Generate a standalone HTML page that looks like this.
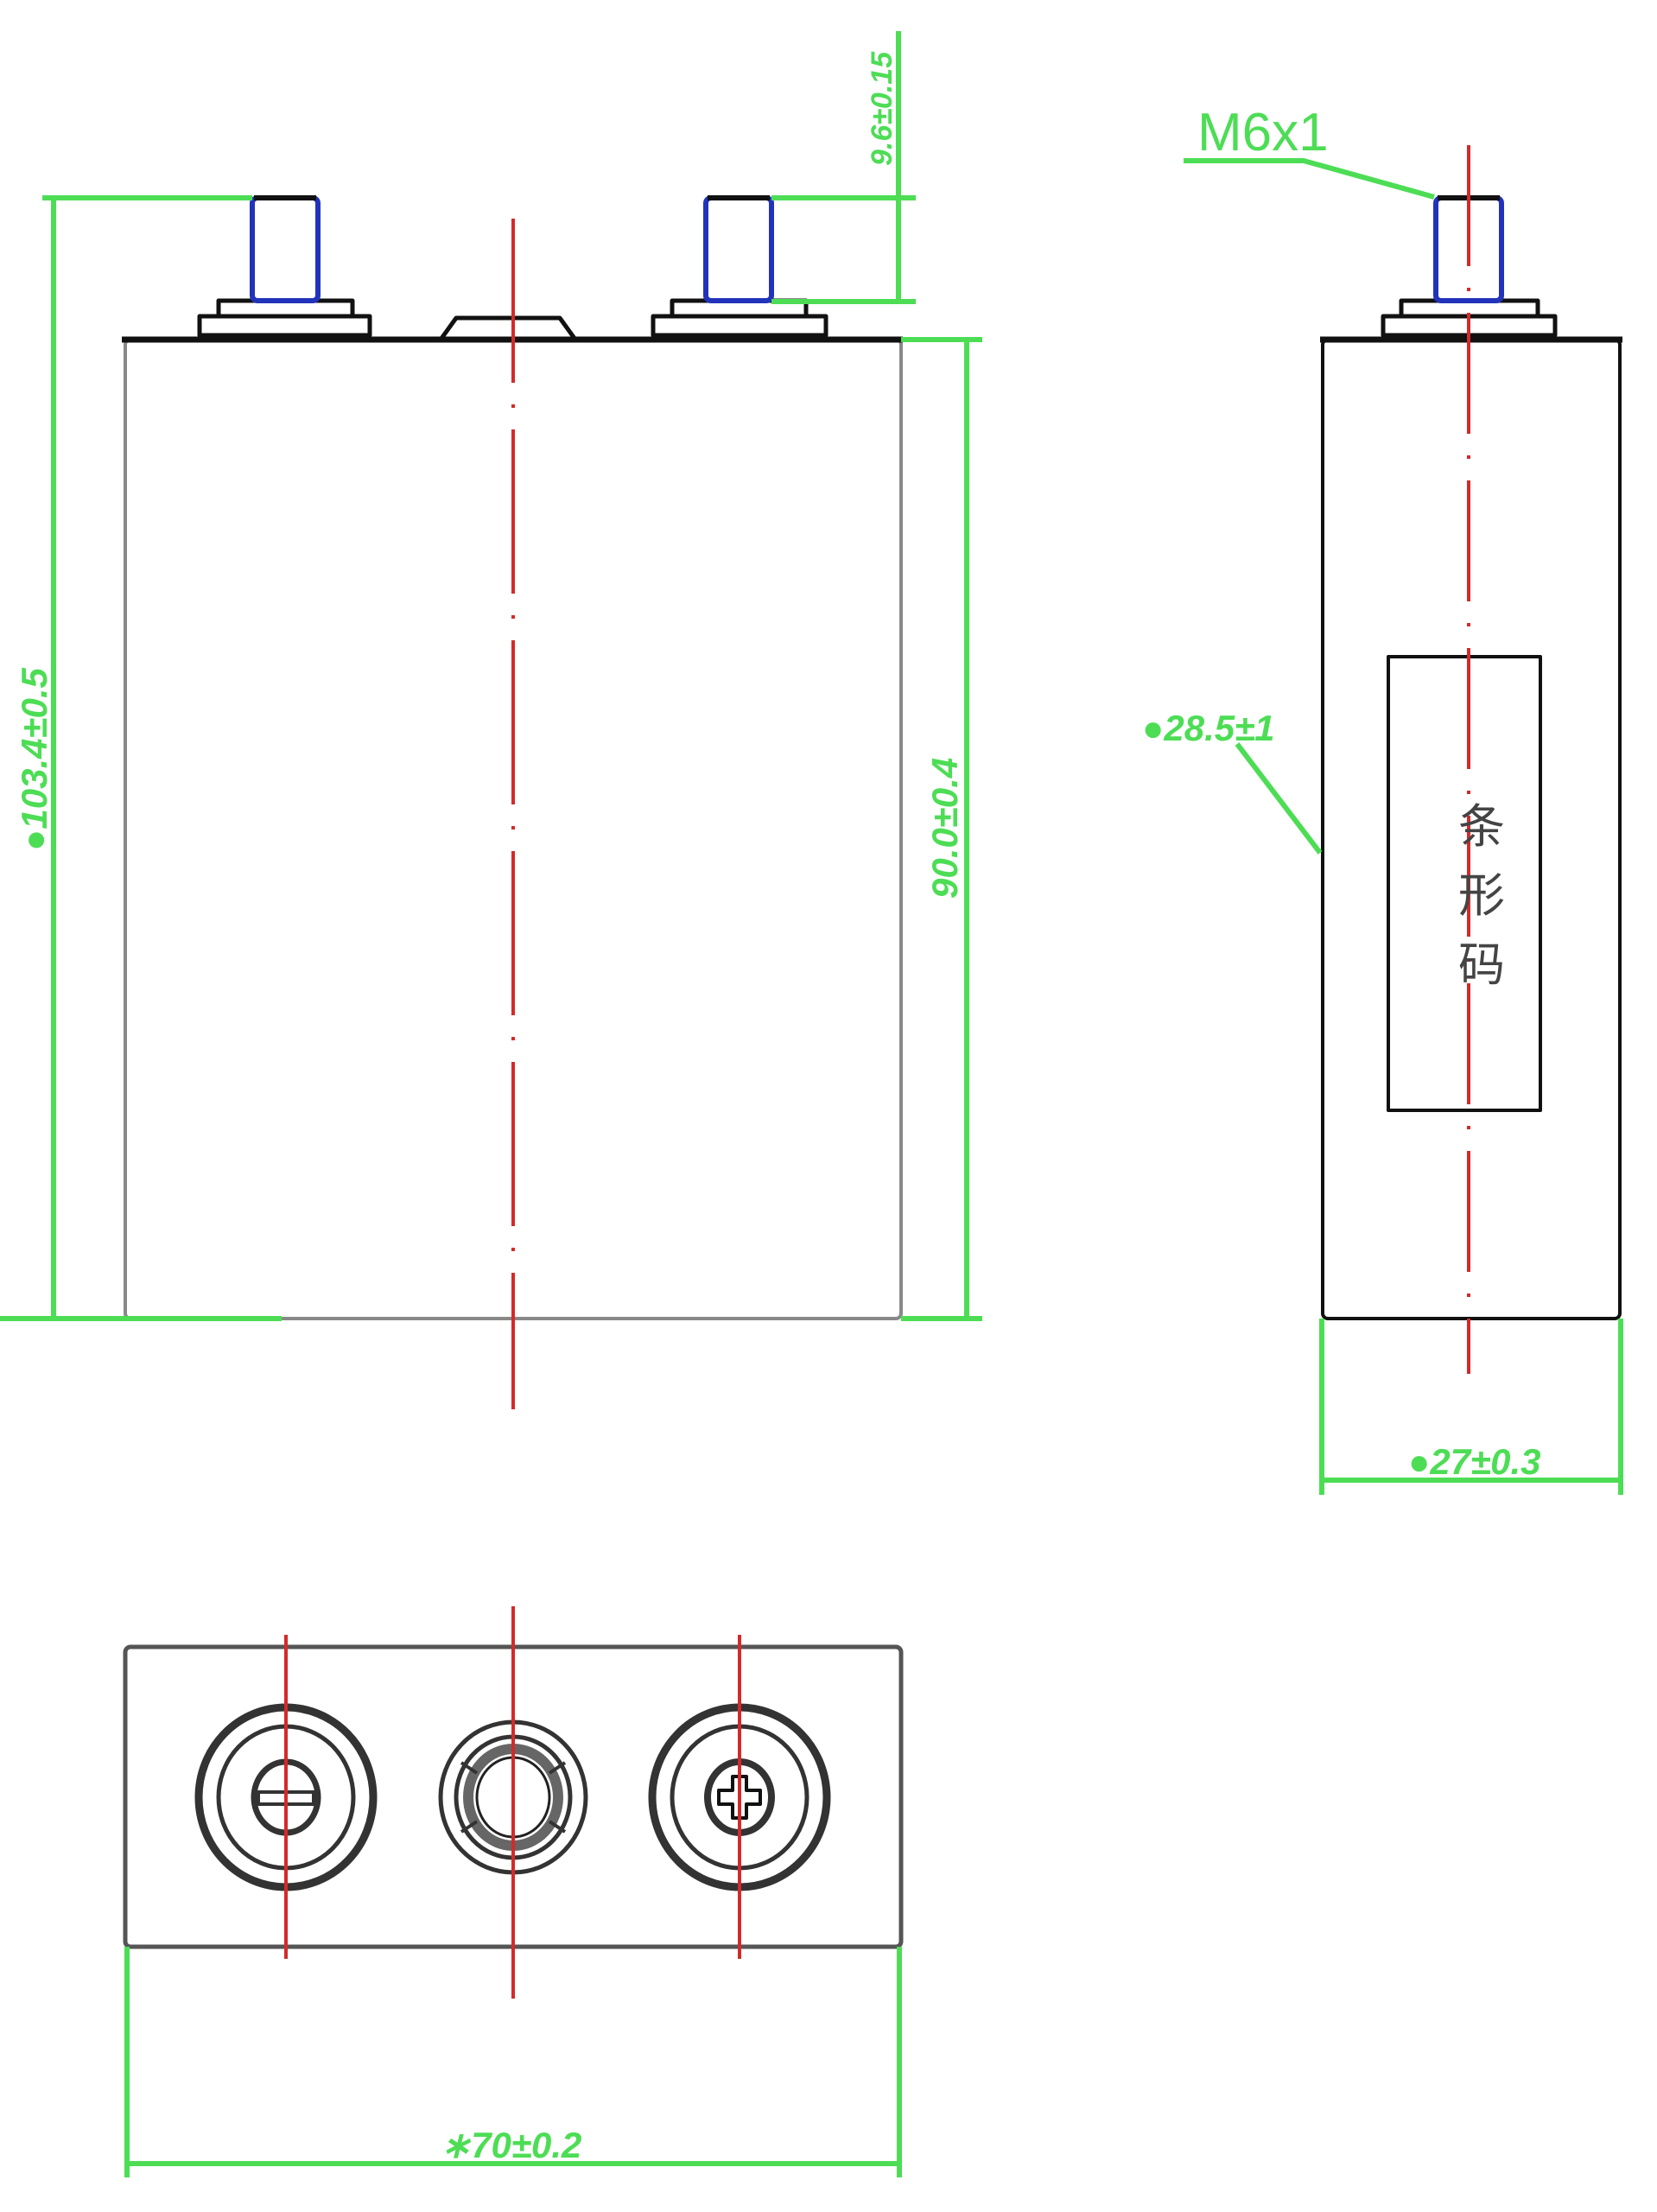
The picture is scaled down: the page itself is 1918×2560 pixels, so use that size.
<!DOCTYPE html>
<html><head><meta charset="utf-8"><style>html,body{margin:0;padding:0;background:#fff}svg{display:block}</style></head><body>
<svg width="1918" height="2560" viewBox="0 0 1918 2560" xmlns="http://www.w3.org/2000/svg">
<g fill="none" stroke-linejoin="round">
<rect x="145" y="393" width="898" height="1133" rx="6" stroke="#888" stroke-width="4"/>
<line x1="141" y1="393" x2="1045" y2="393" stroke="#111" stroke-width="7"/>
<rect x="231" y="366" width="197" height="22" stroke="#111" stroke-width="5"/>
<rect x="253" y="348" width="155" height="18" stroke="#111" stroke-width="5"/>
<rect x="292" y="229" width="76" height="119" rx="6" stroke="#2233bb" stroke-width="6"/>
<line x1="294" y1="229" x2="366" y2="229" stroke="#111" stroke-width="6"/>
<rect x="756" y="366" width="200" height="22" stroke="#111" stroke-width="5"/>
<rect x="778" y="348" width="155" height="18" stroke="#111" stroke-width="5"/>
<rect x="817" y="229" width="76" height="119" rx="6" stroke="#2233bb" stroke-width="6"/>
<line x1="819" y1="229" x2="891" y2="229" stroke="#111" stroke-width="6"/>
<path d="M510 393 L528 368 L648 368 L666 393" stroke="#111" stroke-width="5"/>
<line x1="594" y1="253" x2="594" y2="1631" stroke="#d42a2a" stroke-width="4" stroke-dasharray="190 25 4 25"/>
<g stroke="#4ddd55" stroke-width="6">
<line x1="49" y1="229" x2="292" y2="229"/>
<line x1="0" y1="1526" x2="326" y2="1526"/>
<line x1="62" y1="229" x2="62" y2="1526"/>
<line x1="1043" y1="393" x2="1137" y2="393"/>
<line x1="1043" y1="1526" x2="1137" y2="1526"/>
<line x1="1119" y1="393" x2="1119" y2="1526"/>
<line x1="893" y1="229" x2="1060" y2="229"/>
<line x1="893" y1="349" x2="1060" y2="349"/>
<line x1="1040" y1="36" x2="1040" y2="349"/>
</g>
<rect x="1531" y="393" width="344" height="1133" rx="6" stroke="#111" stroke-width="4"/>
<line x1="1528" y1="393" x2="1878" y2="393" stroke="#111" stroke-width="7"/>
<rect x="1601" y="366" width="199" height="22" stroke="#111" stroke-width="5"/>
<rect x="1622" y="348" width="158" height="18" stroke="#111" stroke-width="5"/>
<rect x="1662" y="229" width="76" height="119" rx="6" stroke="#2233bb" stroke-width="6"/>
<line x1="1664" y1="229" x2="1736" y2="229" stroke="#111" stroke-width="6"/>
<rect x="1607" y="760" width="176" height="525" stroke="#111" stroke-width="4"/>
<line x1="1700" y1="168" x2="1700" y2="1590" stroke="#d42a2a" stroke-width="4" stroke-dasharray="140 25 4 25"/>
<g stroke="#4ddd55" stroke-width="6">
<path d="M1370 186 L1509 186 L1660 228"/>
<path d="M1432 861 L1528 987"/>
<line x1="1530" y1="1526" x2="1530" y2="1730"/>
<line x1="1876" y1="1526" x2="1876" y2="1730"/>
<line x1="1530" y1="1713" x2="1876" y2="1713"/>
</g>
<rect x="145" y="1906" width="898" height="347" rx="6" stroke="#555" stroke-width="5"/>
<g stroke="#333">
<ellipse cx="331" cy="2080" rx="101" ry="104" stroke-width="9"/>
<ellipse cx="331" cy="2080" rx="78" ry="82" stroke-width="5"/>
<ellipse cx="331" cy="2080" rx="37" ry="41" stroke-width="7"/>
<rect x="299" y="2074" width="64" height="14" stroke-width="4"/>
<ellipse cx="856" cy="2080" rx="101" ry="104" stroke-width="9"/>
<ellipse cx="856" cy="2080" rx="78" ry="82" stroke-width="5"/>
<ellipse cx="856" cy="2080" rx="37" ry="41" stroke-width="8"/>
<path d="M848 2056 h16 v16 h16 v16 h-16 v16 h-16 v-16 h-16 v-16 h16 z" stroke-width="4" stroke="#111"/>
<ellipse cx="594" cy="2080" rx="84" ry="87" stroke-width="5"/>
<ellipse cx="594" cy="2080" rx="66" ry="70" stroke-width="5"/>
<ellipse cx="594" cy="2080" rx="52" ry="56" stroke-width="12" stroke="#666"/>
<ellipse cx="594" cy="2080" rx="42" ry="46" stroke-width="3" stroke="#222"/>
<g stroke-width="4"><line x1="534" y1="2040" x2="552" y2="2052"/><line x1="654" y1="2040" x2="636" y2="2052"/><line x1="534" y1="2120" x2="552" y2="2108"/><line x1="654" y1="2120" x2="636" y2="2108"/></g>
</g>
<g stroke="#d42a2a" stroke-width="4">
<line x1="331" y1="1892" x2="331" y2="2267"/>
<line x1="856" y1="1892" x2="856" y2="2267"/>
<line x1="594" y1="1859" x2="594" y2="2313"/>
</g>
<g stroke="#4ddd55" stroke-width="6">
<line x1="147" y1="2253" x2="147" y2="2520"/>
<line x1="1041" y1="2253" x2="1041" y2="2520"/>
<line x1="147" y1="2504" x2="1041" y2="2504"/>
</g>
</g>
<g fill="#4ddd55" font-family="Liberation Sans, sans-serif" font-weight="bold" font-style="italic">
<text x="0" y="0" font-size="42" transform="translate(54 985) rotate(-90)">●103.4±0.5</text>
<text x="0" y="0" font-size="42" transform="translate(1108 1040) rotate(-90)">90.0±0.4</text>
<text x="0" y="0" font-size="34" transform="translate(1032 192) rotate(-90)">9.6±0.15</text>
<text x="1386" y="174" font-size="62" font-style="normal" font-weight="normal">M6x1</text>
<text x="1322" y="857" font-size="42">●28.5±1</text>
<text x="1630" y="1706" font-size="42">●27±0.3</text>
<text x="510" y="2497" font-size="42">∗70±0.2</text>
</g>
<text font-family="Liberation Sans, 'Noto Sans CJK SC', sans-serif" font-size="54" fill="#444">
<tspan x="1688" y="975">条</tspan><tspan x="1688" y="1055">形</tspan><tspan x="1688" y="1135">码</tspan></text>
</svg>
</body></html>
